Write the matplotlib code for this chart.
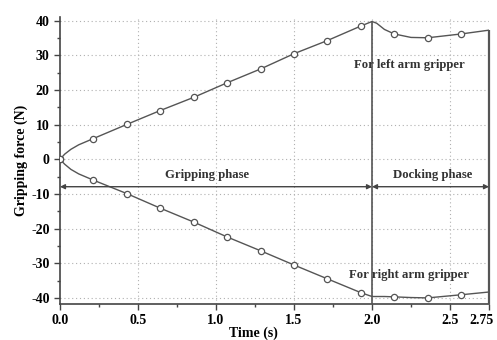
import matplotlib
matplotlib.use("Agg")
import matplotlib.pyplot as plt
import matplotlib.transforms as mtransforms
from matplotlib.ticker import MultipleLocator, FixedLocator

plt.rcParams['axes.unicode_minus'] = False
plt.rcParams['font.family'] = ['Liberation Serif', 'DejaVu Serif']

# curve data
line_t = [0, 0.03, 0.07, 0.12, 0.214, 0.429, 0.643, 0.857, 1.071, 1.286, 1.5, 1.714, 1.929,
          2.0, 2.03, 2.08, 2.143, 2.25, 2.357, 2.571, 2.75]
left_f = [0, 1.5, 2.9, 4.2, 6.0, 10.1, 14.1, 17.9, 22.1, 26.1, 30.5, 34.3, 38.5,
          39.8, 39.3, 37.5, 36.2, 35.2, 35.1, 36.2, 37.3]
right_f = [0, -1.4, -2.9, -4.2, -6.0, -9.9, -14.1, -18.1, -22.4, -26.4, -30.5, -34.5, -38.5,
           -39.6, -39.6, -39.6, -39.7, -39.9, -40.0, -39.1, -38.3]

# marker data
mark_t = [0, 0.214, 0.429, 0.643, 0.857, 1.071, 1.286, 1.5, 1.714, 1.929, 2.143, 2.357, 2.571]
mark_left = [0, 6.0, 10.1, 14.1, 17.9, 22.1, 26.1, 30.5, 34.3, 38.5, 36.2, 35.1, 36.2]
mark_right = [0, -6.0, -9.9, -14.1, -18.1, -22.4, -26.4, -30.5, -34.5, -38.5, -39.7, -40.0, -39.1]

x_ticks = [0.0, 0.5, 1.0, 1.5, 2.0, 2.5, 2.75]
x_labels = ["0.0", "0.5", "1.0", "1.5", "2.0", "2.5", "2.75"]
y_ticks = [-40, -30, -20, -10, 0, 10, 20, 30, 40]

phase_bounds = [0.0, 2.0, 2.75]
phase_names = ["Gripping phase", "Docking phase"]

fig = plt.figure(figsize=(4.97, 3.40), dpi=100)
ax = fig.add_axes([0.1207, 0.105, 0.8632, 0.844])

lc = '#555555'
ax.plot(line_t, left_f, color=lc, lw=1.0, zorder=3)
ax.plot(line_t, right_f, color=lc, lw=1.0, zorder=3)
ax.plot(mark_t, mark_left, ls='none', marker='o', ms=4.5, mfc='white', mec=lc, mew=0.9, zorder=4)
ax.plot(mark_t, mark_right, ls='none', marker='o', ms=4.5, mfc='white', mec=lc, mew=0.9, zorder=4)

ax.set_xlim(0, 2.75)
ax.set_ylim(-41.85, 41)

ax.spines['top'].set_visible(False)
ax.spines['right'].set_visible(False)
for s in ['left', 'bottom']:
    ax.spines[s].set_color('#444444')
    ax.spines[s].set_linewidth(1.2)

# vertical phase lines
ax.vlines(2.0, -41.85, 40, color='#555555', lw=1.2, zorder=3)
ax.vlines(2.75, -41.85, left_f[-1], color='#555555', lw=1.6, zorder=3, clip_on=False)

# grid
ax.xaxis.set_major_locator(FixedLocator(x_ticks))
ax.set_xticklabels(x_labels)
ax.xaxis.set_minor_locator(FixedLocator([0.25, 0.75, 1.25, 1.75, 2.25]))
ax.yaxis.set_major_locator(FixedLocator(y_ticks))
ax.yaxis.set_minor_locator(MultipleLocator(5))
for v in [0.5, 1.0, 1.5, 2.0, 2.5]:
    ax.axvline(v, color='#b0b0b0', ls=(0, (1, 2.5)), lw=0.8, zorder=1)
for v in y_ticks:
    ax.axhline(v, color='#b0b0b0', ls=(0, (1, 2.5)), lw=0.8, zorder=1)

ax.tick_params(axis='both', which='major', direction='out', length=4, width=1, color='#444444',
               labelsize=10)
ax.tick_params(axis='x', which='major', pad=3)
ax.tick_params(axis='both', which='minor', direction='out', length=2.5, width=1, color='#444444')
for lab in ax.get_xticklabels() + ax.get_yticklabels():
    lab.set_fontweight('bold')
last = ax.get_xticklabels()[-1]
last.set_transform(last.get_transform() + mtransforms.ScaledTranslation(-0.07, 0, fig.dpi_scale_trans))

ax.set_xlabel("Time (s)", fontsize=10, fontweight='bold')
ax.xaxis.set_label_coords(0.452, -0.078)
ax.set_ylabel("Gripping force (N)", fontsize=10, fontweight='bold', labelpad=2)

# phase arrows
arr_y = -7.9
for i in range(2):
    ax.annotate('', xy=(phase_bounds[i], arr_y), xytext=(phase_bounds[i + 1], arr_y),
                arrowprops=dict(arrowstyle='<|-|>', color='#444444', lw=1.0,
                                mutation_scale=7, shrinkA=0, shrinkB=0), annotation_clip=False)
ax.text(0.94, -4.6, phase_names[0], ha='center', va='center', fontsize=9.2, fontweight='bold',
        color='#333333')
ax.text(2.39, -4.6, phase_names[1], ha='center', va='center', fontsize=9.2, fontweight='bold',
        color='#333333')

ax.text(2.24, 27.3, "For left arm gripper", ha='center', va='center', fontsize=9.2,
        fontweight='bold', color='#333333')
ax.text(2.24, -33.3, "For right arm gripper", ha='center', va='center', fontsize=9.2,
        fontweight='bold', color='#333333')

fig.savefig("out.png", dpi=100)
